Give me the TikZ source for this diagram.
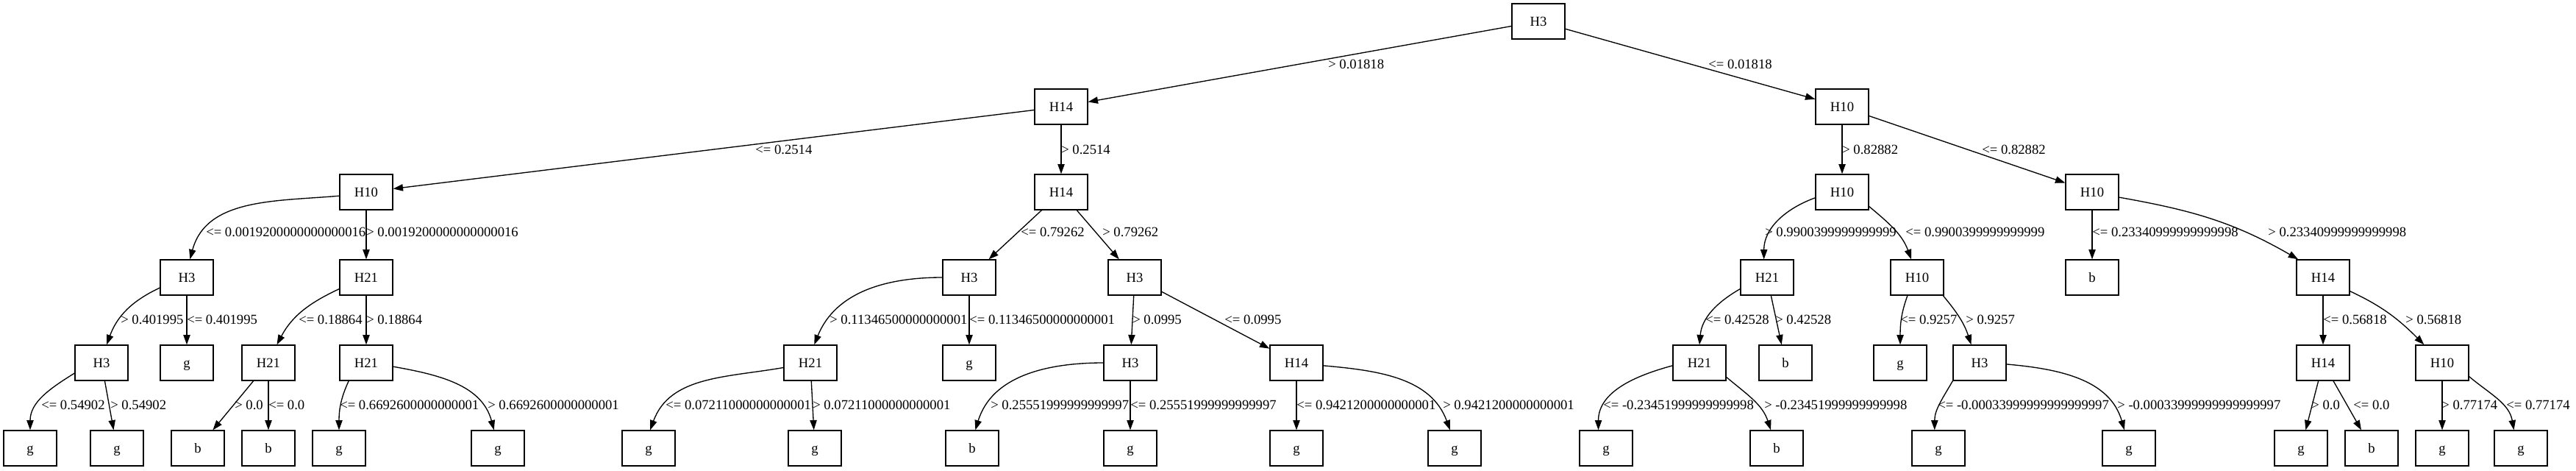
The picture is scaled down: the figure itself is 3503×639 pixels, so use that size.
\documentclass[tikz,border=0pt]{standalone}
\usepackage{fontspec}
\setmainfont{Liberation Serif}
\usetikzlibrary{arrows.meta}

\begin{document}
\begin{tikzpicture}[
  x=0.75pt, y=0.75pt,
  split/.style={rectangle, draw, line width=1pt, minimum width=54pt, minimum height=36pt, inner sep=0pt, text height=9.3pt, text depth=0pt, font=\fontsize{14}{17}\selectfont},
  leaf/.style={split},
  cond/.style={anchor=west, inner sep=0pt, text height=9.3pt, text depth=0pt, font=\fontsize{14}{17}\selectfont},
  arr/.style={-{Triangle[length=10pt, width=7pt]}, line width=1pt}
]
\useasboundingbox (0,0) rectangle (3503,-639);

% -------------------------
% SPLIT NODES
% -------------------------
\node[split] (h3top) at (2092,-29) {H3};

\node[split] (h14a) at (1443,-145) {H14};
\node[split] (h10a) at (2505,-145) {H10};

\node[split] (h10b) at (498,-261) {H10};
\node[split] (h14b) at (1443,-261) {H14};
\node[split] (h10c) at (2505,-261) {H10};
\node[split] (h10d) at (2845,-261) {H10};

\node[split] (h3a) at (254,-377) {H3};
\node[split] (h21a) at (498,-377) {H21};
\node[split] (h3b) at (1318,-377) {H3};
\node[split] (h3c) at (1543,-377) {H3};
\node[split] (h21b) at (2403,-377) {H21};
\node[split] (h10e) at (2607,-377) {H10};
\node[split] (h14c) at (3159,-377) {H14};

\node[split] (h3d) at (138,-493) {H3};
\node[split] (h21c) at (365,-493) {H21};
\node[split] (h21d) at (498,-493) {H21};
\node[split] (h21e) at (1102,-493) {H21};
\node[split] (h3e) at (1537,-493) {H3};
\node[split] (h14d) at (1763,-493) {H14};
\node[split] (h21f) at (2311,-493) {H21};
\node[split] (h3f) at (2692,-493) {H3};
\node[split] (h14e) at (3159,-493) {H14};
\node[split] (h10f) at (3321,-493) {H10};

% -------------------------
% LEAVES
% -------------------------
\node[leaf] (l3a) at (2845,-377) {b};

\node[leaf] (l4a) at (254,-493) {g};
\node[leaf] (l4b) at (1318,-493) {g};
\node[leaf] (l4c) at (2428,-493) {b};
\node[leaf] (l4d) at (2584,-493) {g};

\node[leaf] (l5a) at (41,-609) {g};
\node[leaf] (l5b) at (159,-609) {g};
\node[leaf] (l5c) at (269,-609) {b};
\node[leaf] (l5d) at (365,-609) {b};
\node[leaf] (l5e) at (461,-609) {g};
\node[leaf] (l5f) at (677,-609) {g};
\node[leaf] (l5g) at (882,-609) {g};
\node[leaf] (l5h) at (1108,-609) {g};
\node[leaf] (l5i) at (1322,-609) {b};
\node[leaf] (l5j) at (1537,-609) {g};
\node[leaf] (l5k) at (1763,-609) {g};
\node[leaf] (l5l) at (1978,-609) {g};
\node[leaf] (l5m) at (2184,-609) {g};
\node[leaf] (l5n) at (2416,-609) {b};
\node[leaf] (l5o) at (2636,-609) {g};
\node[leaf] (l5p) at (2895,-609) {g};
\node[leaf] (l5q) at (3129,-609) {g};
\node[leaf] (l5r) at (3225,-609) {b};
\node[leaf] (l5s) at (3321,-609) {g};
\node[leaf] (l5t) at (3428,-609) {g};

% -------------------------
% EDGES
% -------------------------
% level 0 -> 1
\draw[arr] (h3top) -- (h14a);
\draw[arr] (h3top) -- (h10a);
% level 1 -> 2
\draw[arr] (h14a) -- (h10b);
\draw[arr] (h14a) -- (h14b);
\draw[arr] (h10a) -- (h10c);
\draw[arr] (h10a) -- (h10d);
% level 2 -> 3
\draw[arr] (h10b.188) to[out=185, in=75] (h3a.80);
\draw[arr] (h10b) -- (h21a);
\draw[arr] (h14b) -- (h3b);
\draw[arr] (h14b) -- (h3c);
\draw[arr] (h10c.192) to[out=200, in=90] (h21b.100);
\draw[arr] (h10c.-28) to[out=-40, in=110] (h10e.108);
\draw[arr] (h10d) -- (l3a);
\draw[arr] (h10d.-11) to[out=-10, in=150] (h14c.144);
% level 3 -> 4
\draw[arr] (h3a.201) to[out=205, in=70] (h3d.74);
\draw[arr] (h3a) -- (l4a);
\draw[arr] (h21a.203) to[out=205, in=62] (h21c.65);
\draw[arr] (h21a) -- (h21d);
\draw[arr] (h3b.west) to[out=180, in=68] (h21e.78);
\draw[arr] (h3b) -- (l4b);
\draw[arr] (h3c) -- (h3e);
\draw[arr] (h3c) -- (h14d);
\draw[arr] (h21b.203) to[out=210, in=85] (h21f.north);
\draw[arr] (h21b) -- (l4c);
\draw[arr] (h10e.242) to[out=250, in=90] (l4d.north);
\draw[arr] (h10e.-35) to[out=-50, in=108] (h3f.115);
\draw[arr] (h14c) -- (h14e);
\draw[arr] (h14c.-27) to[out=-25, in=135] (h10f.135);
% level 4 -> 5
\draw[arr] (h3d.201) to[out=212, in=90] (l5a.north);
\draw[arr] (h3d) -- (l5b);
\draw[arr] (h21c) -- (l5c);
\draw[arr] (h21c) -- (l5d);
\draw[arr] (h21d.226) to[out=245, in=90] (l5e.north);
\draw[arr] (h21d.-8) to[out=-10, in=105] (l5f.102);
\draw[arr] (h21e.190) to[out=190, in=70] (l5g.85);
\draw[arr] (h21e) -- (l5h);
\draw[arr] (h3e.west) to[out=180, in=73] (l5i.80);
\draw[arr] (h3e) -- (l5j);
\draw[arr] (h14d) -- (l5k);
\draw[arr] (h14d.-6) to[out=-5, in=110] (l5l.104);
\draw[arr] (h21f.186) to[out=195, in=90] (l5m.113);
\draw[arr] (h21f.-28) to[out=-40, in=108] (l5n.108);
\draw[arr] (h3f.south west) to[out=240, in=90] (l5o.102);
\draw[arr] (h3f.-3) to[out=-5, in=106] (l5p.104);
\draw[arr] (h14e) -- (l5q);
\draw[arr] (h14e) -- (l5r);
\draw[arr] (h10f) -- (l5s);
\draw[arr] (h10f.-27) to[out=-40, in=100] (l5t.111);

% -------------------------
% EDGE CONDITIONS
% -------------------------
\node[cond] (c01) at (1806,-87) {> 0.01818};
\node[cond] (c02) at (2323,-87) {<= 0.01818};

\node[cond] (c03) at (1027,-203) {<= 0.2514};
\node[cond] (c04) at (1443,-203) {> 0.2514};
\node[cond] (c05) at (2505,-203) {> 0.82882};
\node[cond] (c06) at (2695,-203) {<= 0.82882};

\node[cond] (c07) at (280,-315) {<= 0.0019200000000000016};
\node[cond] (c08) at (498,-315) {> 0.0019200000000000016};
\node[cond] (c09) at (1388,-315) {<= 0.79262};
\node[cond] (c10) at (1499,-315) {> 0.79262};
\node[cond] (c11) at (2400,-315) {> 0.9900399999999999};
\node[cond] (c12) at (2591,-315) {<= 0.9900399999999999};
\node[cond] (c13) at (2845,-315) {<= 0.23340999999999998};
\node[cond] (c14) at (3084,-315) {> 0.23340999999999998};

\node[cond] (c15) at (164,-434) {> 0.401995};
\node[cond] (c16) at (254,-434) {<= 0.401995};
\node[cond] (c17) at (406,-434) {<= 0.18864};
\node[cond] (c18) at (498,-434) {> 0.18864};
\node[cond] (c19) at (1128,-434) {> 0.11346500000000001};
\node[cond] (c20) at (1318,-434) {<= 0.11346500000000001};
\node[cond] (c21) at (1540,-434) {> 0.0995};
\node[cond] (c22) at (1665,-434) {<= 0.0995};
\node[cond] (c23) at (2319,-434) {<= 0.42528};
\node[cond] (c24) at (2414,-434) {> 0.42528};
\node[cond] (c25) at (2584,-434) {<= 0.9257};
\node[cond] (c26) at (2673,-434) {> 0.9257};
\node[cond] (c27) at (3159,-434) {<= 0.56818};
\node[cond] (c28) at (3271,-434) {> 0.56818};

\node[cond] (c29) at (56,-550) {<= 0.54902};
\node[cond] (c30) at (150,-550) {> 0.54902};
\node[cond] (c31) at (319,-550) {> 0.0};
\node[cond] (c32) at (365,-550) {<= 0.0};
\node[cond] (c33) at (462,-550) {<= 0.6692600000000001};
\node[cond] (c34) at (663,-550) {> 0.6692600000000001};
\node[cond] (c35) at (905,-550) {<= 0.07211000000000001};
\node[cond] (c36) at (1105,-550) {> 0.07211000000000001};
\node[cond] (c37) at (1347,-550) {> 0.25551999999999997};
\node[cond] (c38) at (1537,-550) {<= 0.25551999999999997};
\node[cond] (c39) at (1763,-550) {<= 0.9421200000000001};
\node[cond] (c40) at (1962,-550) {> 0.9421200000000001};
\node[cond] (c41) at (2180,-550) {<= -0.23451999999999998};
\node[cond] (c42) at (2399,-550) {> -0.23451999999999998};
\node[cond] (c43) at (2635,-550) {<= -0.00033999999999999997};
\node[cond] (c44) at (2879,-550) {> -0.00033999999999999997};
\node[cond] (c45) at (3143,-550) {> 0.0};
\node[cond] (c46) at (3200,-550) {<= 0.0};
\node[cond] (c47) at (3320,-550) {> 0.77174};
\node[cond] (c48) at (3408,-550) {<= 0.77174};

\end{tikzpicture}
\end{document}
